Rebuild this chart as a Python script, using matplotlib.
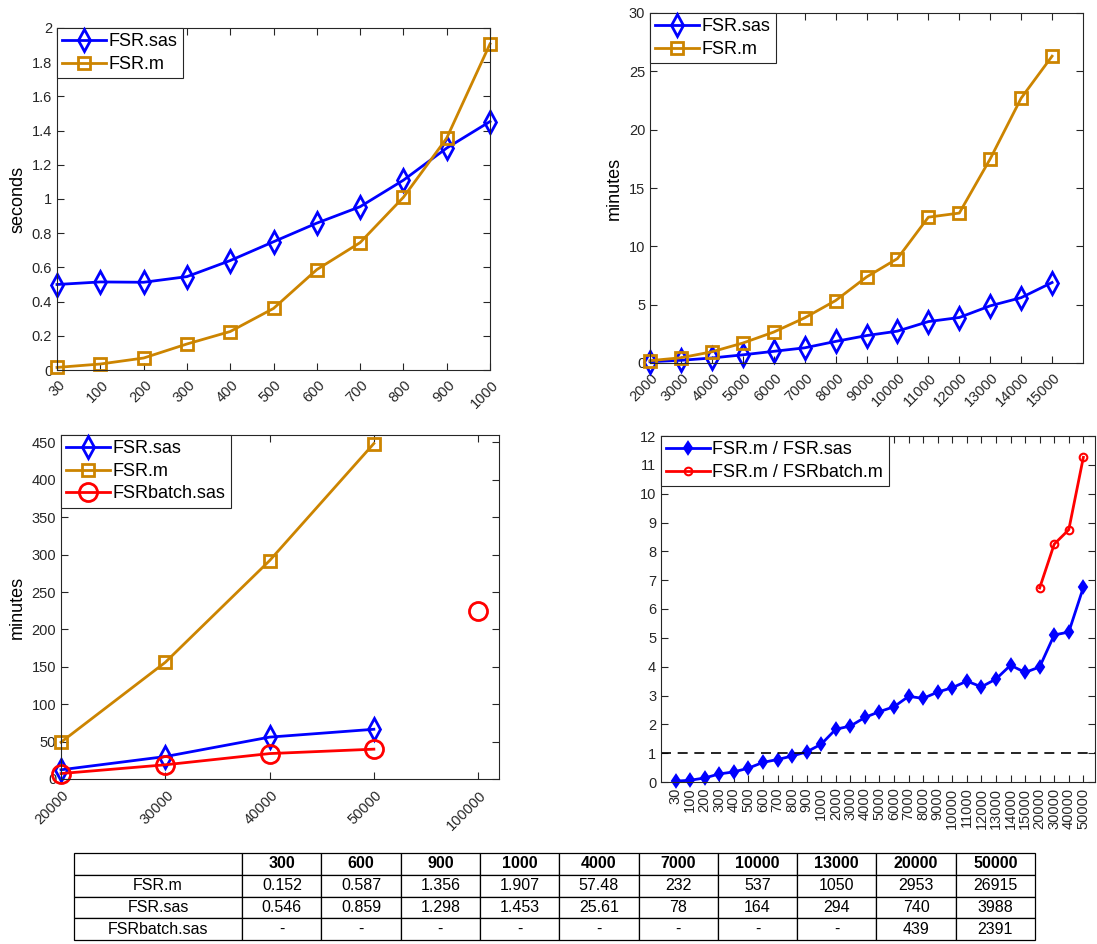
"""
Timing comparison of FSR implementations (4 panels + summary table).
"""

import numpy as np
import matplotlib.pyplot as plt
from matplotlib.ticker import FormatStrFormatter
from matplotlib.transforms import ScaledTranslation


# ============================================================
# Data
# ============================================================

# panel 1: small problems, seconds
small_sizes = ["30", "100", "200", "300", "400", "500", "600", "700", "800", "900", "1000"]
small_sas = [0.50, 0.515, 0.513, 0.546, 0.64, 0.75, 0.859, 0.955, 1.11, 1.298, 1.453]
small_m = [0.015, 0.035, 0.07, 0.152, 0.225, 0.36, 0.587, 0.745, 1.01, 1.356, 1.907]

# panel 2: medium problems, minutes
mid_sizes = [2000, 3000, 4000, 5000, 6000, 7000, 8000, 9000, 10000,
             11000, 12000, 13000, 14000, 15000]
mid_sas = [0.11, 0.23, 0.43, 0.70, 1.0, 1.3, 1.85, 2.35, 2.73, 3.55, 3.9, 4.9, 5.6, 6.9]
mid_m = [0.2, 0.45, 0.96, 1.71, 2.65, 3.87, 5.35, 7.37, 8.95, 12.5, 12.85, 17.5, 22.7, 26.3]

# panel 3: large problems, minutes
large_sizes = ["20000", "30000", "40000", "50000", "100000"]
large_sas = [12.3, 30, 56, 66.5]
large_m = [49.2, 156, 292, 448.6]
large_batch = [7.3, 19, 34, 39.9, 225]

# panel 4: speed-up ratios
ratio_sizes = ["30", "100", "200", "300", "400", "500", "600", "700", "800", "900", "1000",
               "2000", "3000", "4000", "5000", "6000", "7000", "8000", "9000", "10000",
               "11000", "12000", "13000", "14000", "15000", "20000", "30000", "40000", "50000"]
ratio_sas = [0.03, 0.06, 0.14, 0.28, 0.35, 0.48, 0.68, 0.78, 0.90, 1.045, 1.31,
             1.83, 1.94, 2.24, 2.44, 2.61, 2.97, 2.90, 3.12, 3.27,
             3.50, 3.30, 3.57, 4.05, 3.80, 3.99, 5.10, 5.20, 6.75]
ratio_batch = [6.73, 8.25, 8.75, 11.26]

# summary table (seconds)
table_sizes = ["300", "600", "900", "1000", "4000", "7000", "10000", "13000", "20000", "50000"]
table_m = ["0.152", "0.587", "1.356", "1.907", "57.48", "232", "537", "1050", "2953", "26915"]
table_sas = ["0.546", "0.859", "1.298", "1.453", "25.61", "78", "164", "294", "740", "3988"]
table_batch = ["-", "-", "-", "-", "-", "-", "-", "-", "439", "2391"]


# ============================================================
# Style
# ============================================================

BLUE = "#0000ff"
ORANGE = "#cc8400"
RED = "#ff0000"
GRAY = "#262626"

plt.rcParams["font.family"] = ["Liberation Sans", "DejaVu Sans"]

W, H = 1097, 944


def px_axes(fig, left, top, right, bottom):
    # axes from pixel box of the original figure
    return fig.add_axes([left / W, (H - bottom) / H, (right - left) / W, (bottom - top) / H])


def style_axes(ax, xpad=3.5):
    ax.tick_params(direction="in", top=True, right=True, length=5, width=0.8,
                   colors=GRAY, labelsize=10.5)
    ax.tick_params(axis="x", pad=xpad)
    for s in ax.spines.values():
        s.set_color(GRAY)
        s.set_linewidth(0.8)


def rotate_45(ax, fig):
    # matlab-like rotated labels: end of the text sits just right of the tick
    shift = ScaledTranslation(6 / 100, 0, fig.dpi_scale_trans)
    for lab in ax.get_xticklabels():
        lab.set_rotation(45)
        lab.set_ha("right")
        lab.set_va("center")
        lab.set_rotation_mode("anchor")
        lab.set_transform(lab.get_transform() + shift)


def add_legend(ax, **kw):
    leg = ax.legend(loc="upper left", borderaxespad=0, fontsize=13, handlelength=2.4,
                    handletextpad=0.15, borderpad=0.3, labelspacing=0.3,
                    fancybox=False, framealpha=1, edgecolor=GRAY, **kw)
    leg.get_frame().set_linewidth(0.8)
    return leg


fig = plt.figure(figsize=(W / 100, H / 100), dpi=100)

# ============================================================
# 1. Small problems (seconds)
# ============================================================

ax1 = px_axes(fig, 57, 28, 490, 370)
x1 = np.arange(1, len(small_sizes) + 1)
ax1.plot(x1, small_sas, color=BLUE, lw=2, marker="d", ms=11, mew=2, mfc="none",
         label="FSR.sas", clip_on=False)
ax1.plot(x1, small_m, color=ORANGE, lw=2, marker="s", ms=8.5, mew=2, mfc="none",
         label="FSR.m", clip_on=False)
ax1.set_xlim(1, len(small_sizes))
ax1.set_ylim(0, 2)
ax1.set_xticks(x1)
ax1.set_xticklabels(small_sizes)
ax1.set_yticks(np.arange(0, 2.01, 0.2))
ax1.yaxis.set_major_formatter(FormatStrFormatter("%g"))
ax1.set_ylabel("seconds", fontsize=13)
style_axes(ax1, xpad=9)
rotate_45(ax1, fig)
add_legend(ax1)

# ============================================================
# 2. Medium problems (minutes)
# ============================================================

ax2 = px_axes(fig, 650, 13, 1083, 363)
ax2.plot(mid_sizes, mid_sas, color=BLUE, lw=2, marker="d", ms=11, mew=2, mfc="none",
         label="FSR.sas", clip_on=False)
ax2.plot(mid_sizes, mid_m, color=ORANGE, lw=2, marker="s", ms=8.5, mew=2, mfc="none",
         label="FSR.m", clip_on=False)
ax2.set_xlim(2000, 16000)
ax2.set_ylim(0, 30)
ax2.set_xticks(mid_sizes)
ax2.set_yticks(np.arange(0, 31, 5))
ax2.set_ylabel("minutes", fontsize=13)
style_axes(ax2, xpad=9)
rotate_45(ax2, fig)
add_legend(ax2)

# ============================================================
# 3. Large problems (minutes)
# ============================================================

ax3 = px_axes(fig, 61, 435, 499, 779)
x3 = np.arange(1, len(large_sizes) + 1)
ax3.plot(x3[:len(large_sas)], large_sas, color=BLUE, lw=2, marker="d", ms=11, mew=2,
         mfc="none", label="FSR.sas", clip_on=False)
ax3.plot(x3[:len(large_m)], large_m, color=ORANGE, lw=2, marker="s", ms=8.5, mew=2,
         mfc="none", label="FSR.m", clip_on=False)
ax3.plot(x3[:4], large_batch[:4], color=RED, lw=2, marker="o", ms=13, mew=2,
         mfc="none", label="FSRbatch.sas", clip_on=False)
ax3.plot(x3[4:], large_batch[4:], color=RED, lw=0, marker="o", ms=13, mew=2,
         mfc="none", clip_on=False)
ax3.set_xlim(1, 5.2)
ax3.set_ylim(0, 460)
ax3.set_xticks(x3)
ax3.set_xticklabels(large_sizes)
ax3.set_yticks(np.arange(0, 451, 50))
ax3.set_ylabel("minutes", fontsize=13)
style_axes(ax3, xpad=10)
rotate_45(ax3, fig)
add_legend(ax3)

# ============================================================
# 4. Speed-up ratios
# ============================================================

ax4 = px_axes(fig, 661, 436, 1095, 782)
x4 = np.arange(1, len(ratio_sizes) + 1)
ax4.plot(x4, ratio_sas, color=BLUE, lw=2, marker="d", ms=6.5, mew=1.5,
         label="FSR.m / FSR.sas", clip_on=False)
ax4.plot(x4[-len(ratio_batch):], ratio_batch, color=RED, lw=2, marker="o", ms=5.5,
         mew=1.5, mfc="none", label="FSR.m / FSRbatch.m", clip_on=False)
ax4.axhline(1, color="black", lw=1.2, ls=(0, (6, 4)))
ax4.set_xlim(0, len(ratio_sizes) + 0.8)
ax4.set_ylim(0, 12)
ax4.set_xticks(x4)
ax4.set_xticklabels(ratio_sizes, rotation=90)
ax4.set_yticks(np.arange(0, 13, 1))
style_axes(ax4, xpad=4)
add_legend(ax4)

# ============================================================
# 5. Summary table
# ============================================================

tab_ax = px_axes(fig, 74, 853, 1035, 940)
tab_ax.axis("off")
cells = [[""] + table_sizes,
         ["FSR.m"] + table_m,
         ["FSR.sas"] + table_sas,
         ["FSRbatch.sas"] + table_batch]
col_w = [0.175] + [0.0825] * len(table_sizes)
tbl = tab_ax.table(cellText=cells, colWidths=col_w, cellLoc="center", bbox=[0, 0, 1, 1])
tbl.auto_set_font_size(False)
tbl.set_fontsize(11.5)
for (r, c), cell in tbl.get_celld().items():
    cell.set_edgecolor("black")
    cell.set_linewidth(0.9)
    if r == 0:
        cell.get_text().set_fontweight("bold")

fig.savefig("out.png", dpi=100)
